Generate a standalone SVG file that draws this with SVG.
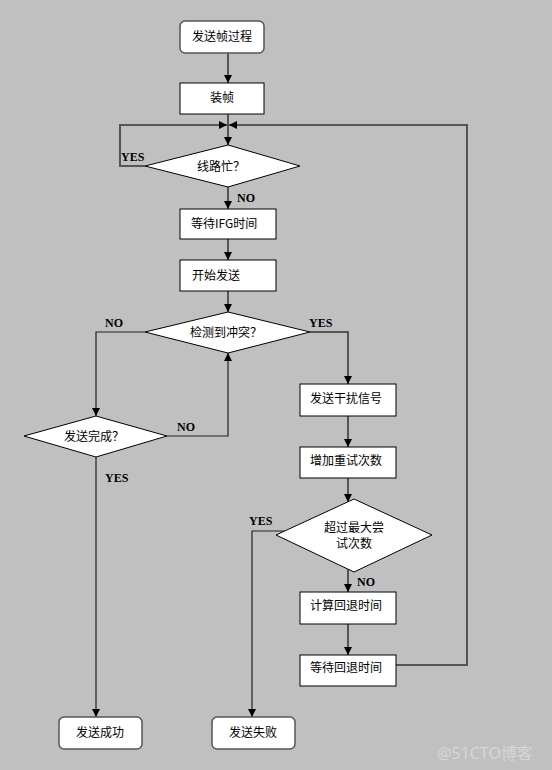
<svg xmlns="http://www.w3.org/2000/svg" width="552" height="770" viewBox="0 0 552 770">
<defs>
<marker id="ah" markerUnits="userSpaceOnUse" markerWidth="9" markerHeight="8" refX="8" refY="4" orient="auto">
<path d="M0,0 L8,4 L0,8 z" fill="#000"/>
</marker>
<style>
.box{fill:#fff;stroke:#000;stroke-width:1}
.rbox{fill:#fff;stroke:#555;stroke-width:1.5}
.t{font-family:"Noto Sans CJK SC","Noto Sans CJK SC",sans-serif;font-size:12px;fill:#000}
.c{text-anchor:middle}
.lb{font-family:"Liberation Serif",serif;font-size:12px;font-weight:bold;fill:#000}
.ln{fill:none;stroke:#555;stroke-width:2}
.thin{fill:none;stroke:#222;stroke-width:1.2}
</style>
</defs>
<rect x="0" y="0" width="552" height="770" fill="#c0c0c0"/>
<g id="connectors">
<path class="ln" d="M228,53 V83" marker-end="url(#ah)"/>
<path class="ln" d="M228,114 V145" marker-end="url(#ah)"/>
<path class="ln" d="M145,166 H120 V125 H227" marker-end="url(#ah)"/>
<path class="ln" d="M228,187 V209" marker-end="url(#ah)"/>
<path class="ln" d="M228,239 V260" marker-end="url(#ah)"/>
<path class="ln" d="M228,291 V312" marker-end="url(#ah)"/>
<path class="thin" d="M145,332 H96 V416" marker-end="url(#ah)"/>
<path class="ln" d="M310,332 H348 V384" marker-end="url(#ah)"/>
<path class="thin" d="M167,436 H228 V353" marker-end="url(#ah)"/>
<path class="thin" d="M96,457 V717" marker-end="url(#ah)"/>
<path class="ln" d="M348,416 V447" marker-end="url(#ah)"/>
<path class="ln" d="M348,478 V502" marker-end="url(#ah)"/>
<path class="ln" d="M348,569 V592" marker-end="url(#ah)"/>
<path class="thin" d="M284,531 H252 V717" marker-end="url(#ah)"/>
<path class="ln" d="M348,624 V655" marker-end="url(#ah)"/>
<path class="ln" d="M396,665 H467 V125 H229" marker-end="url(#ah)"/>
<text class="lb" x="121" y="161">YES</text>
<text class="lb" x="237" y="202">NO</text>
<text class="lb" x="105" y="327">NO</text>
<text class="lb" x="309" y="327">YES</text>
<text class="lb" x="177" y="431">NO</text>
<text class="lb" x="105" y="482">YES</text>
<text class="lb" x="249" y="525">YES</text>
<text class="lb" x="357" y="586">NO</text>
</g>
<g id="n_start"><rect class="rbox" x="180" y="21" width="84" height="32" rx="5"/><text class="t c" x="222" y="41">发送帧过程</text></g>
<g id="n_frame"><rect class="box" x="180" y="83" width="84" height="31"/><text class="t c" x="222" y="102">装帧</text></g>
<g id="n_busy"><polygon class="box" points="228,145 300,166 228,187 145,166"/><text class="t c" x="221" y="171">线路忙？</text></g>
<g id="n_ifg"><rect class="box" x="180" y="209" width="96" height="30"/><text class="t" x="191" y="228">等待IFG时间</text></g>
<g id="n_send"><rect class="box" x="180" y="260" width="96" height="31"/><text class="t" x="192" y="280">开始发送</text></g>
<g id="n_coll"><polygon class="box" points="228,312 310,332 228,353 145,332"/><text class="t c" x="226" y="337">检测到冲突？</text></g>
<g id="n_done"><polygon class="box" points="96,416 167,436 96,457 24,436"/><text class="t c" x="94" y="441">发送完成？</text></g>
<g id="n_jam"><rect class="box" x="300" y="384" width="96" height="32"/><text class="t" x="310" y="403">发送干扰信号</text></g>
<g id="n_inc"><rect class="box" x="300" y="447" width="96" height="31"/><text class="t" x="310" y="465">增加重试次数</text></g>
<g id="n_max"><polygon class="box" points="354,499 432,535 354,572 276,535"/><text class="t c" x="354" y="532">超过最大尝</text><text class="t c" x="354" y="548">试次数</text></g>
<g id="n_calc"><rect class="box" x="300" y="592" width="96" height="32"/><text class="t" x="310" y="610">计算回退时间</text></g>
<g id="n_wait"><rect class="box" x="300" y="655" width="96" height="31"/><text class="t" x="310" y="672">等待回退时间</text></g>
<g id="n_ok"><rect class="rbox" x="59" y="717" width="83" height="32" rx="5"/><text class="t c" x="100" y="737">发送成功</text></g>
<g id="n_fail"><rect class="rbox" x="212" y="717" width="83" height="32" rx="5"/><text class="t c" x="253" y="737">发送失败</text></g>
<text x="437" y="759" style="font-family:'Noto Sans','Noto Sans CJK SC',sans-serif;font-size:16px;fill:#d6d6d6">@51CTO博客</text>
</svg>
